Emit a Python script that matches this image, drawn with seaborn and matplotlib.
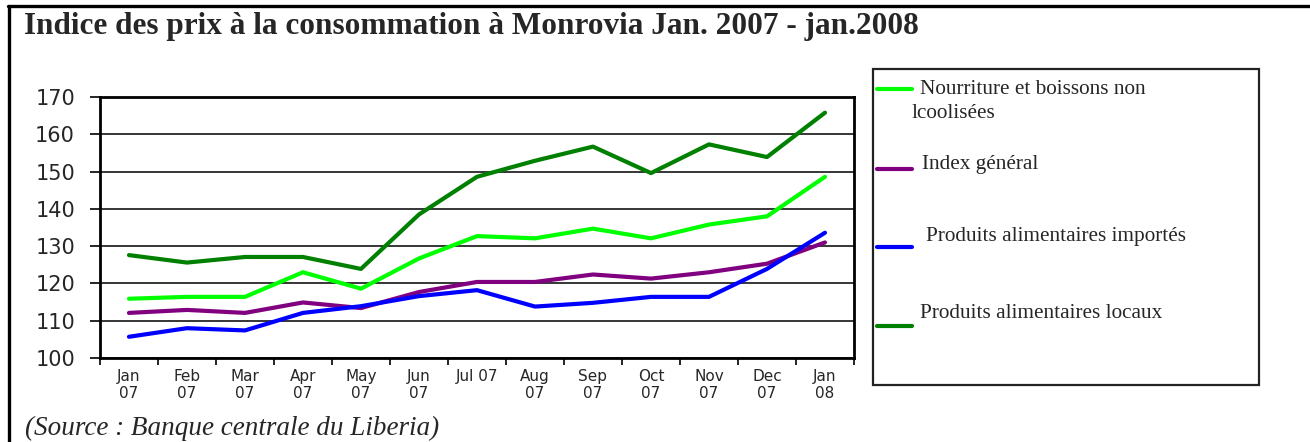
import numpy as np
import pandas as pd

import matplotlib.pyplot as plt
from matplotlib.lines import Line2D
from matplotlib.patches import Rectangle
import seaborn as sns

# data
months = ["Jan\n07", "Feb\n07", "Mar\n07", "Apr\n07", "May\n07", "Jun\n07", "Jul 07",
          "Aug\n07", "Sep\n07", "Oct\n07", "Nov\n07", "Dec\n07", "Jan\n08"]
series_names = ["Nourriture et boissons non\nlcoolisées", "Index général",
                "Produits alimentaires importés", "Produits alimentaires locaux"]
nourriture = [115.9, 116.4, 116.4, 123.0, 118.6, 126.7, 132.7, 132.1, 134.7, 132.1, 135.8, 138.0, 148.6]
index_general = [112.1, 112.9, 112.1, 114.9, 113.4, 117.7, 120.4, 120.4, 122.4, 121.3, 123.0, 125.3, 131.0]
importes = [105.7, 108.0, 107.4, 112.1, 113.9, 116.6, 118.2, 113.8, 114.8, 116.4, 116.4, 123.9, 133.6]
locaux = [127.6, 125.6, 127.1, 127.1, 123.9, 138.5, 148.6, 152.9, 156.7, 149.6, 157.3, 153.9, 165.8]
colors = ["#00ff00", "#800080", "#0000ff", "#008000"]

df = pd.DataFrame({
    "month": np.tile(np.arange(len(months)), 4),
    "value": nourriture + index_general + importes + locaux,
    "serie": np.repeat(series_names, len(months)),
})

sns.set_style("white")
plt.rcParams["font.family"] = ["DejaVu Sans"]

fig = plt.figure(figsize=(13.1, 4.42), dpi=100)
ax = fig.add_axes([0.0763, 0.19, 0.5756, 0.5905])

sns.lineplot(data=df, x="month", y="value", hue="serie", hue_order=series_names,
             palette=colors, linewidth=3, legend=False, ax=ax, zorder=3)

ax.set_xlim(-0.5, len(months) - 0.5)
ax.set_ylim(100, 170)
ax.set_yticks(np.arange(100, 171, 10))
ax.yaxis.grid(True, color="black", linewidth=1.1)
ax.set_axisbelow(True)
ax.set_xlabel("")
ax.set_ylabel("")
for s in ax.spines.values():
    s.set_color("black")
    s.set_linewidth(2)

# labels in the middle of each category, ticks on the boundaries
ax.set_xticks(np.arange(len(months)))
ax.set_xticklabels(months, fontsize=11, linespacing=1.15)
ax.set_xticks(np.arange(-0.5, len(months)), minor=True)
ax.tick_params(axis="x", which="major", length=0, pad=8)
ax.tick_params(axis="x", which="minor", length=5, width=1.2, color="black")
ax.tick_params(axis="y", length=7, width=1.2, color="black", labelsize=15, pad=11)
ax.tick_params(axis="both", direction="out", bottom=True, left=True)
ax.xaxis.set_tick_params(which="both", bottom=True)

# frame of the original document
W, H = 1310, 442
fig.add_artist(Line2D([8 / W, 1], [1 - 6 / H, 1 - 6 / H], color="black", lw=2.4,
                      transform=fig.transFigure))
fig.add_artist(Line2D([8.5 / W, 8.5 / W], [0, 1 - 6 / H], color="black", lw=2.4,
                      transform=fig.transFigure))

fig.text(24 / W, 1 - 34 / H, "Indice des prix à la consommation à Monrovia Jan. 2007 - jan.2008",
         family="Liberation Serif", fontweight="bold", fontsize=22.5, va="baseline")
fig.text(25 / W, 1 - 435 / H, "(Source : Banque centrale du Liberia)",
         family="Liberation Serif", style="italic", fontsize=19.5, va="baseline")

# legend box drawn by hand to keep the original spacing
fig.add_artist(Rectangle((873 / W, 1 - 385 / H), (1259 - 873) / W, (385 - 69) / H,
                         transform=fig.transFigure, fill=False, edgecolor="#222222", lw=1.6))
handle_y = [89, 169, 247, 326]
text_x = [920, 922, 926, 920]
text_y = [90, 164, 236, 314]
for name, c, hy, tx, ty in zip(series_names, colors, handle_y, text_x, text_y):
    fig.add_artist(Line2D([877 / W, 912 / W], [1 - hy / H, 1 - hy / H], color=c, lw=3,
                          transform=fig.transFigure))
    lines = name.split("\n")
    fig.text(tx / W, 1 - ty / H, lines[0], family="Liberation Serif", fontsize=15.3, va="center")
    if len(lines) > 1:
        fig.text(912 / W, 1 - (ty + 23) / H, lines[1], family="Liberation Serif",
                 fontsize=15.3, va="center")

fig.savefig("out.png", dpi=100)
